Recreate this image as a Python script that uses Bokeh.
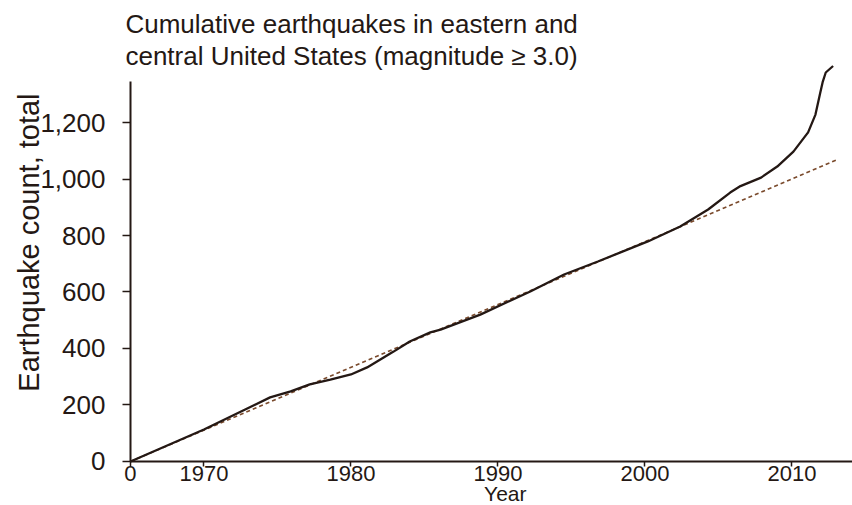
import math
from bokeh.plotting import figure
from bokeh.models import FixedTicker, NumeralTickFormatter, Range1d, Label
from bokeh.embed import file_html
from bokeh.resources import INLINE

# Cumulative count of M>=3.0 earthquakes, eastern and central US
years = [1965.0, 1970.0, 1974.5, 1975.9, 1977.2, 1978.6, 1980.0, 1981.1, 1982.0,
         1982.9, 1984.0, 1985.4, 1986.1, 1988.8, 1992.2, 1994.5, 1996.8, 2000.2,
         2002.4, 2004.3, 2005.8, 2006.5, 2007.9, 2009.0, 2010.1, 2011.1, 2011.6,
         2011.9, 2012.1, 2012.3, 2012.8]
counts = [0, 113, 227, 248, 273, 290, 308, 333, 361,
          389, 425, 457, 467, 520, 602, 662, 708, 779,
          832, 892, 952, 975, 1005, 1044, 1097, 1165, 1228,
          1299, 1345, 1377, 1400]

# Long-term linear trend
trend_years = [1965.0, 2013.1]
trend_counts = [0, 1069]

x_ticks = [1965, 1970, 1980, 1990, 2000, 2010]
x_labels = {1965: "0", 1970: "1970", 1980: "1980", 1990: "1990", 2000: "2000", 2010: "2010"}
y_ticks = [0, 200, 400, 600, 800, 1000, 1200]

title_lines = ["Cumulative earthquakes in eastern and",
               "central United States (magnitude \u2265 3.0)"]

INK = "#241814"
FONT = "Liberation Sans"

# The plot area spans the whole canvas; both axes sit at fixed data locations.
p = figure(width=852, height=505, output_backend="svg", toolbar_location=None,
           x_range=Range1d(1956.16, 2014.12), y_range=Range1d(-155.8, 1631.9),
           min_border=0)
p.outline_line_color = None
p.grid.grid_line_color = None
p.background_fill_color = "white"
p.border_fill_color = "white"

# trend line and observed curve
p.line(trend_years, trend_counts, line_color="#7a4a2c", line_width=1.6, line_dash="4 3")
p.line(years, counts, line_color=INK, line_width=2.3)

# two-line heading
for txt, ty in zip(title_lines, [1550, 1436]):
    p.add_layout(Label(x=1964.66, y=ty, text=txt, text_font=FONT, text_font_size="26px",
                       text_color=INK, text_align="left", text_baseline="alphabetic"))

# axis titles
p.add_layout(Label(x=1990.5, y=-112, text="Year", text_font=FONT, text_font_size="21px",
                   text_color=INK, text_align="center", text_baseline="middle"))
p.add_layout(Label(x=1958.1, y=775, text="Earthquake count, total", text_font=FONT,
                   text_font_size="29px", text_color=INK, angle=math.pi / 2,
                   text_align="center", text_baseline="middle"))

xa = p.xaxis[0]
xa.fixed_location = 0
xa.bounds = (1965, 2014.12)
xa.ticker = FixedTicker(ticks=x_ticks)
xa.major_label_overrides = x_labels
xa.major_label_standoff = 0
xa.major_tick_in = 0
xa.major_tick_out = 5
xa.minor_tick_line_color = None
xa.major_label_text_font_size = "22px"

ya = p.yaxis[0]
ya.fixed_location = 1965
ya.bounds = (0, 1345)
ya.ticker = FixedTicker(ticks=y_ticks)
ya.formatter = NumeralTickFormatter(format="0,0")
ya.major_label_standoff = 17
ya.major_tick_in = 0
ya.major_tick_out = 8
ya.minor_tick_line_color = None
ya.major_label_text_font_size = "26px"

for ax in (xa, ya):
    ax.axis_line_color = INK
    ax.axis_line_width = 2
    ax.major_tick_line_color = INK
    ax.major_tick_line_width = 1.5
    ax.major_label_text_font = FONT
    ax.major_label_text_color = INK

open("out.html", "w").write(file_html(p, INLINE))
